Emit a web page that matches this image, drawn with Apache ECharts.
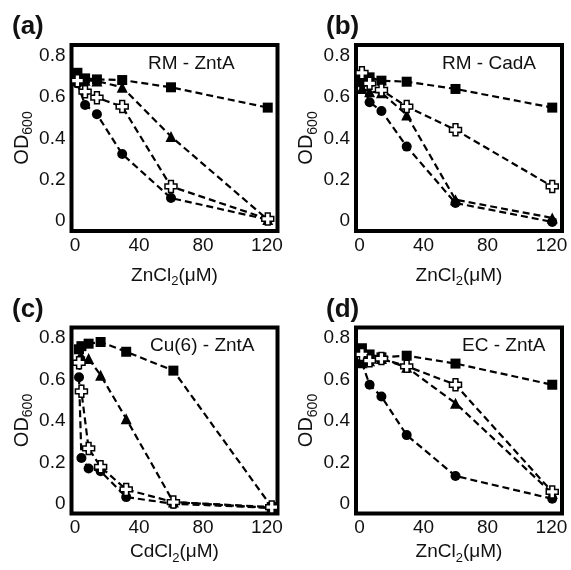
<!DOCTYPE html>
<html>
<head>
<meta charset="utf-8">
<script src="https://cdn.jsdelivr.net/npm/echarts@6/dist/echarts.min.js"></script>
<style>
  html, body { margin: 0; padding: 0; background: #fff; }
  #chart { width: 571px; height: 570px; }
</style>
</head>
<body>
<div id="chart"></div>
<script>
// concentrations (uM)
const znConc = [1.5, 6.3, 13.7, 29.5, 60, 120.5];
const cdConc = [2.5, 4, 8.5, 16, 32, 61.5, 123];
const xTicks = [0, 40, 80, 120];
const yTicks = [0, 0.2, 0.4, 0.6, 0.8];

// (a) RM - ZntA
const aSquare = [0.716, 0.689, 0.684, 0.681, 0.646, 0.548];
const aTriangle = [0.69, 0.68, 0.676, 0.646, 0.409, 0.008];
const aCross = [0.678, 0.625, 0.596, 0.553, 0.168, 0.011];
const aCircle = [0.665, 0.561, 0.516, 0.324, 0.112, 0.008];

// (b) RM - CadA
const bSquare = [0.69, 0.694, 0.678, 0.673, 0.638, 0.548];
const bTriangle = [0.64, 0.625, 0.62, 0.513, 0.104, 0.016];
const bCross = [0.716, 0.665, 0.633, 0.553, 0.441, 0.168];
const bCircle = [0.665, 0.574, 0.532, 0.36, 0.088, -0.003];

// (c) Cu(6) - ZntA, CdCl2
const cSquare = [0.745, 0.76, 0.772, 0.78, 0.733, 0.642, -0.016];
const cTriangle = [0.7, 0.71, 0.7, 0.62, 0.41, 0.008, -0.02];
const cCross = [0.68, 0.542, 0.267, 0.178, 0.069, 0.008, -0.016];
const cCircle = [0.61, 0.221, 0.17, 0.157, 0.032, 0.0, -0.02];

// (d) EC - ZntA
const dSquare = [0.75, 0.72, 0.706, 0.714, 0.676, 0.574];
const dTriangle = [0.68, 0.69, 0.7, 0.658, 0.485, 0.05];
const dCross = [0.72, 0.69, 0.7, 0.663, 0.574, 0.057];
const dCircle = [0.68, 0.574, 0.517, 0.331, 0.134, 0.024];

const panelLabels = ['(a)', '(b)', '(c)', '(d)'];
const panelTitles = ['RM - ZntA', 'RM - CadA', 'Cu(6) - ZntA', 'EC - ZntA'];
const salts = ['ZnCl', 'ZnCl', 'CdCl', 'ZnCl'];

const FONT = 'Liberation Sans, Arial, Helvetica, sans-serif';
const INK = '#111';

// 面板位置
const gridLeft = [71.5, 356, 71.5, 356];
const gridTop = [45, 45, 327.5, 327.5];
const GW = 206, GH = 186;
const titleLeft = [148, 442, 150, 462];

const panels = [
  { x: znConc, sq: aSquare, tri: aTriangle, cr: aCross, ci: aCircle },
  { x: znConc, sq: bSquare, tri: bTriangle, cr: bCross, ci: bCircle },
  { x: cdConc, sq: cSquare, tri: cTriangle, cr: cCross, ci: cCircle },
  { x: znConc, sq: dSquare, tri: dTriangle, cr: dCross, ci: dCircle },
];

const crossPath = 'path://M3,0H7V3H10V7H7V10H3V7H0V3H3Z';

function makeSeries(idx, xs, ys, kind) {
  const s = {
    type: 'line',
    xAxisIndex: idx,
    yAxisIndex: idx,
    data: xs.map((x, i) => [x, ys[i]]),
    showAllSymbol: true,
    lineStyle: { color: '#000', width: 2.2, type: [7, 4] },
    itemStyle: { color: '#000' },
    animation: false,
    silent: true,
  };
  if (kind === 'square') { s.symbol = 'rect'; s.symbolSize = 10; }
  if (kind === 'triangle') { s.symbol = 'triangle'; s.symbolSize = 11; }
  if (kind === 'circle') { s.symbol = 'circle'; s.symbolSize = 10; }
  if (kind === 'cross') {
    s.symbol = crossPath;
    s.symbolSize = 12;
    s.itemStyle = { color: '#fff', borderColor: '#000', borderWidth: 1.5 };
  }
  return s;
}

const grids = [], xAxes = [], yAxes = [], series = [], titles = [];

panels.forEach((p, i) => {
  const bottomRow = i >= 2;
  grids.push({
    left: gridLeft[i], top: gridTop[i], width: GW, height: GH,
    show: true, borderColor: '#000', borderWidth: 4, backgroundColor: 'transparent',
  });
  xAxes.push({
    type: 'value', gridIndex: i, min: -2.2, max: 126.6,
    axisLine: { show: false }, axisTick: { show: false }, splitLine: { show: false },
    axisLabel: {
      customValues: xTicks, fontSize: 19, color: INK, fontFamily: FONT, margin: 5,
    },
    name: '{n|' + salts[i] + '}{s|2}{n|(\u03bcM)}',
    nameLocation: 'middle',
    nameGap: bottomRow ? 26 : 32,
    nameTextStyle: {
      rich: {
        n: { fontSize: 19, color: INK, fontFamily: FONT },
        s: { fontSize: 13, color: INK, fontFamily: FONT, padding: [12, 0, 0, 0] },
      },
    },
  });
  yAxes.push({
    type: 'value', gridIndex: i, min: -0.047, max: 0.85,
    axisLine: { show: false }, axisTick: { show: false }, splitLine: { show: false },
    axisLabel: {
      customValues: yTicks, fontSize: 19, color: INK, fontFamily: FONT, margin: 6,
      formatter: (v) => (v === 0 ? '0' : v.toFixed(1)),
    },
    name: '{n|OD}{s|600}',
    nameLocation: 'middle',
    nameGap: 35,
    nameTextStyle: {
      rich: {
        n: { fontSize: 20, color: INK, fontFamily: FONT },
        s: { fontSize: 14, color: INK, fontFamily: FONT, padding: [12, 0, 0, 0] },
      },
    },
  });

  series.push(makeSeries(i, p.x, p.sq, 'square'));
  series.push(makeSeries(i, p.x, p.tri, 'triangle'));
  series.push(makeSeries(i, p.x, p.ci, 'circle'));
  series.push(makeSeries(i, p.x, p.cr, 'cross'));

  titles.push({
    text: panelLabels[i],
    left: i % 2 === 0 ? 12 : 326,
    top: bottomRow ? 297 : 14,
    textStyle: { fontSize: 26, fontWeight: 'bold', color: INK, fontFamily: FONT },
    padding: 0,
  });
  titles.push({
    text: panelTitles[i],
    left: titleLeft[i],
    top: bottomRow ? 336 : 54,
    textStyle: { fontSize: 19, fontWeight: 'normal', color: INK, fontFamily: FONT },
    padding: 0,
  });
});

const myChart = echarts.init(document.getElementById('chart'));
myChart.setOption({
  animation: false,
  backgroundColor: '#fff',
  title: titles,
  grid: grids,
  xAxis: xAxes,
  yAxis: yAxes,
  series: series,
});
</script>
</body>
</html>
